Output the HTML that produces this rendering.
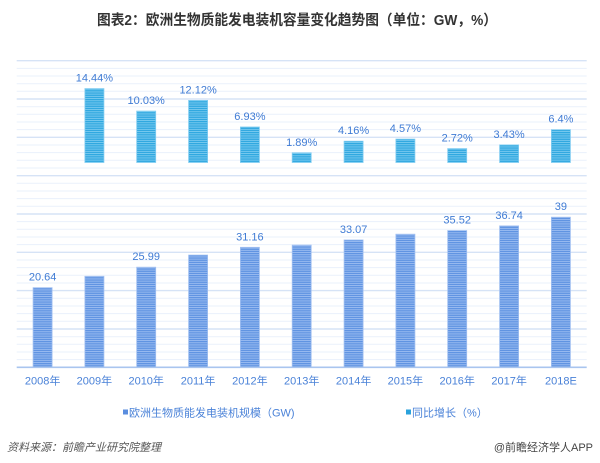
<!DOCTYPE html>
<html><head><meta charset="utf-8"><style>
html,body{margin:0;padding:0;background:#fff;}
svg{display:block;}
text{font-family:"Liberation Sans","Noto Sans CJK SC",sans-serif;}
</style></head><body>
<svg width="600" height="463" viewBox="0 0 600 463" xmlns="http://www.w3.org/2000/svg">
<defs>
<pattern id="pt" width="4" height="2.2" patternUnits="userSpaceOnUse">
<rect width="4" height="2.2" fill="#30a8e0"/><rect y="1.3" width="4" height="0.9" fill="#7ccbf0"/>
</pattern>
<pattern id="pb" width="4" height="2.2" patternUnits="userSpaceOnUse">
<rect width="4" height="2.2" fill="#6094e2"/><rect y="1.3" width="4" height="0.9" fill="#9cbdf1"/>
</pattern>
</defs>
<rect width="600" height="463" fill="#fff"/>
<text x="297" y="25" text-anchor="middle" font-size="14.5" font-weight="bold" fill="#333" textLength="400" lengthAdjust="spacingAndGlyphs">图表2：欧洲生物质能发电装机容量变化趋势图（单位：GW，%）</text>
<g stroke-width="1">
<g stroke="#eaf1fb">
<line x1="16.7" x2="586.7" y1="68.4" y2="68.4"/><line x1="16.7" x2="586.7" y1="76" y2="76"/><line x1="16.7" x2="586.7" y1="83.7" y2="83.7"/><line x1="16.7" x2="586.7" y1="91.3" y2="91.3"/>
<line x1="16.7" x2="586.7" y1="106.7" y2="106.7"/><line x1="16.7" x2="586.7" y1="114.3" y2="114.3"/><line x1="16.7" x2="586.7" y1="122" y2="122"/><line x1="16.7" x2="586.7" y1="129.6" y2="129.6"/>
<line x1="16.7" x2="586.7" y1="145" y2="145"/><line x1="16.7" x2="586.7" y1="152.6" y2="152.6"/><line x1="16.7" x2="586.7" y1="160.3" y2="160.3"/><line x1="16.7" x2="586.7" y1="168" y2="168"/>
<line x1="16.7" x2="586.7" y1="183.3" y2="183.3"/><line x1="16.7" x2="586.7" y1="191" y2="191"/><line x1="16.7" x2="586.7" y1="198.6" y2="198.6"/><line x1="16.7" x2="586.7" y1="206.3" y2="206.3"/>
<line x1="16.7" x2="586.7" y1="221.6" y2="221.6"/><line x1="16.7" x2="586.7" y1="229.3" y2="229.3"/><line x1="16.7" x2="586.7" y1="237" y2="237"/><line x1="16.7" x2="586.7" y1="244.6" y2="244.6"/>
<line x1="16.7" x2="586.7" y1="260" y2="260"/><line x1="16.7" x2="586.7" y1="267.6" y2="267.6"/><line x1="16.7" x2="586.7" y1="275.3" y2="275.3"/><line x1="16.7" x2="586.7" y1="283" y2="283"/>
<line x1="16.7" x2="586.7" y1="298.3" y2="298.3"/><line x1="16.7" x2="586.7" y1="306" y2="306"/><line x1="16.7" x2="586.7" y1="313.6" y2="313.6"/><line x1="16.7" x2="586.7" y1="321.3" y2="321.3"/>
<line x1="16.7" x2="586.7" y1="336.7" y2="336.7"/><line x1="16.7" x2="586.7" y1="344.3" y2="344.3"/><line x1="16.7" x2="586.7" y1="352" y2="352"/><line x1="16.7" x2="586.7" y1="359.6" y2="359.6"/>
</g>
<g stroke="#d6e3f6" stroke-width="1.4">
<line x1="16.7" x2="586.7" y1="60.7" y2="60.7"/><line x1="16.7" x2="586.7" y1="99" y2="99"/><line x1="16.7" x2="586.7" y1="137.3" y2="137.3"/><line x1="16.7" x2="586.7" y1="175.7" y2="175.7"/>
<line x1="16.7" x2="586.7" y1="214" y2="214"/><line x1="16.7" x2="586.7" y1="252.3" y2="252.3"/><line x1="16.7" x2="586.7" y1="290.6" y2="290.6"/><line x1="16.7" x2="586.7" y1="329" y2="329"/>
</g>
</g>
<g fill="url(#pt)" stroke="#80ccf1" stroke-width="0.8">
<rect x="84.9" y="88.6" width="19" height="73.9"/>
<rect x="136.7" y="111.1" width="19" height="51.4"/>
<rect x="188.6" y="100.4" width="19" height="62.1"/>
<rect x="240.4" y="127" width="19" height="35.5"/>
<rect x="292.2" y="152.8" width="19" height="9.7"/>
<rect x="344.1" y="141.2" width="19" height="21.3"/>
<rect x="395.9" y="139.1" width="19" height="23.4"/>
<rect x="447.7" y="148.6" width="19" height="13.9"/>
<rect x="499.6" y="144.9" width="19" height="17.6"/>
<rect x="551.4" y="129.7" width="19" height="32.8"/>
</g>
<g font-size="11" fill="#3f7bd4" text-anchor="middle">
<text x="94.4" y="81.6">14.44%</text>
<text x="146.2" y="104.1">10.03%</text>
<text x="198.1" y="93.4">12.12%</text>
<text x="249.9" y="120">6.93%</text>
<text x="301.7" y="145.8">1.89%</text>
<text x="353.6" y="134.2">4.16%</text>
<text x="405.4" y="132.1">4.57%</text>
<text x="457.2" y="141.6">2.72%</text>
<text x="509.1" y="137.9">3.43%</text>
<text x="560.9" y="122.7">6.4%</text>
</g>
<g fill="url(#pb)" stroke="#a0bff1" stroke-width="0.8">
<rect x="33.1" y="287.7" width="19" height="79.3"/>
<rect x="84.9" y="276.3" width="19" height="90.7"/>
<rect x="136.7" y="267.2" width="19" height="99.8"/>
<rect x="188.6" y="255.1" width="19" height="111.9"/>
<rect x="240.4" y="247.3" width="19" height="119.7"/>
<rect x="292.2" y="245.1" width="19" height="121.9"/>
<rect x="344.1" y="240" width="19" height="127"/>
<rect x="395.9" y="234.2" width="19" height="132.8"/>
<rect x="447.7" y="230.6" width="19" height="136.4"/>
<rect x="499.6" y="225.9" width="19" height="141.1"/>
<rect x="551.4" y="217.2" width="19" height="149.8"/>
</g>
<line x1="16.7" x2="586.7" y1="367.3" y2="367.3" stroke="#a9c5ef" stroke-width="1.6"/>
<g font-size="11" fill="#3f7bd4" text-anchor="middle">
<text x="42.6" y="280.7">20.64</text>
<text x="146.2" y="260.2">25.99</text>
<text x="249.9" y="240.3">31.16</text>
<text x="353.6" y="233">33.07</text>
<text x="457.2" y="223.6">35.52</text>
<text x="509.1" y="218.9">36.74</text>
<text x="560.9" y="210.2">39</text>
</g>
<g font-size="11" fill="#4a82d8" text-anchor="middle">
<text x="42.6" y="384.5">2008年</text>
<text x="94.4" y="384.5">2009年</text>
<text x="146.2" y="384.5">2010年</text>
<text x="198.1" y="384.5">2011年</text>
<text x="249.9" y="384.5">2012年</text>
<text x="301.7" y="384.5">2013年</text>
<text x="353.6" y="384.5">2014年</text>
<text x="405.4" y="384.5">2015年</text>
<text x="457.2" y="384.5">2016年</text>
<text x="509.1" y="384.5">2017年</text>
<text x="560.9" y="384.5">2018E</text>
</g>
<rect x="123" y="409.5" width="5" height="5" fill="#5a8ddf"/>
<text x="129" y="416.5" font-size="11" fill="#4a82d8">欧洲生物质能发电装机规模（GW)</text>
<rect x="406" y="409.5" width="5" height="5" fill="#2aa2dc"/>
<text x="412" y="416.5" font-size="11" fill="#4a82d8">同比增长（%）</text>
<text x="7" y="451" font-size="11" font-style="italic" fill="#555">资料来源：前瞻产业研究院整理</text>
<text x="593" y="451" font-size="11" fill="#444" text-anchor="end">@前瞻经济学人APP</text>
</svg>
</body></html>
